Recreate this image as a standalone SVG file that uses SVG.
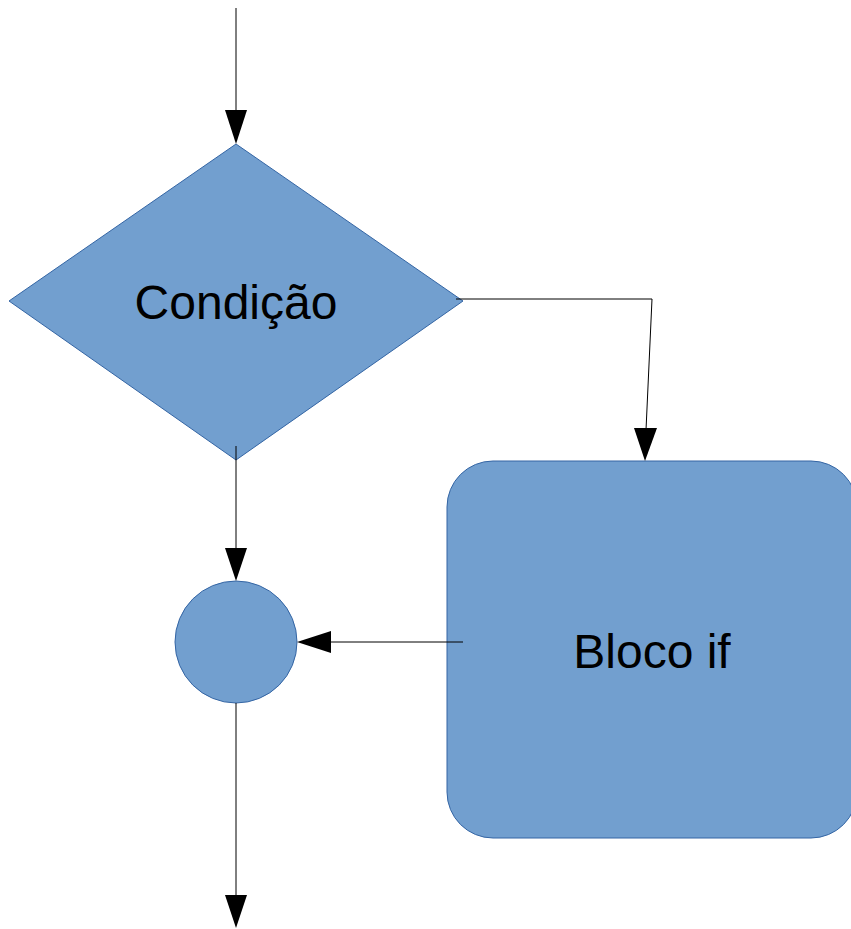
<svg xmlns="http://www.w3.org/2000/svg" width="851" height="929" viewBox="0 0 851 929">
  <style>
    .shape { fill: #729fcf; stroke: #3465a4; stroke-width: 1; }
    .label { font-family: "Liberation Sans", Arial, sans-serif; font-size: 48px; fill: #000; text-anchor: middle; }
    .wire { fill: none; stroke: #000; stroke-width: 1; }
    .head { fill: #000; }
  </style>
  <rect width="851" height="929" fill="#fff"/>

  <g id="decision">
    <polygon class="shape" points="236,144 463,301 236,460 9,301"/>
    <text class="label" x="236" y="319">Condição</text>
  </g>

  <g id="if-block">
    <rect class="shape" x="447" y="461" width="410" height="377" rx="46" ry="46"/>
    <text class="label" x="652" y="668">Bloco if</text>
  </g>

  <g id="merge">
    <circle class="shape" cx="236" cy="642" r="61"/>
  </g>

  <g id="connectors">
    <!-- entry into decision -->
    <line class="wire" x1="236" y1="8" x2="236" y2="112"/>
    <polygon class="head" points="225,110 247,110 236,144"/>
    <!-- true branch to if block -->
    <polyline class="wire" points="456,299 652,299 646,430"/>
    <polygon class="head" points="634,428 657,428 645,461"/>
    <!-- false branch to merge -->
    <line class="wire" x1="236" y1="446" x2="236" y2="550"/>
    <polygon class="head" points="225,548 247,548 236,581"/>
    <!-- if block back to merge -->
    <line class="wire" x1="463" y1="642" x2="330" y2="642"/>
    <polygon class="head" points="331,631 331,653 297,642"/>
    <!-- exit -->
    <line class="wire" x1="236" y1="703" x2="236" y2="897"/>
    <polygon class="head" points="225,895 247,895 236,928"/>
  </g>
</svg>
